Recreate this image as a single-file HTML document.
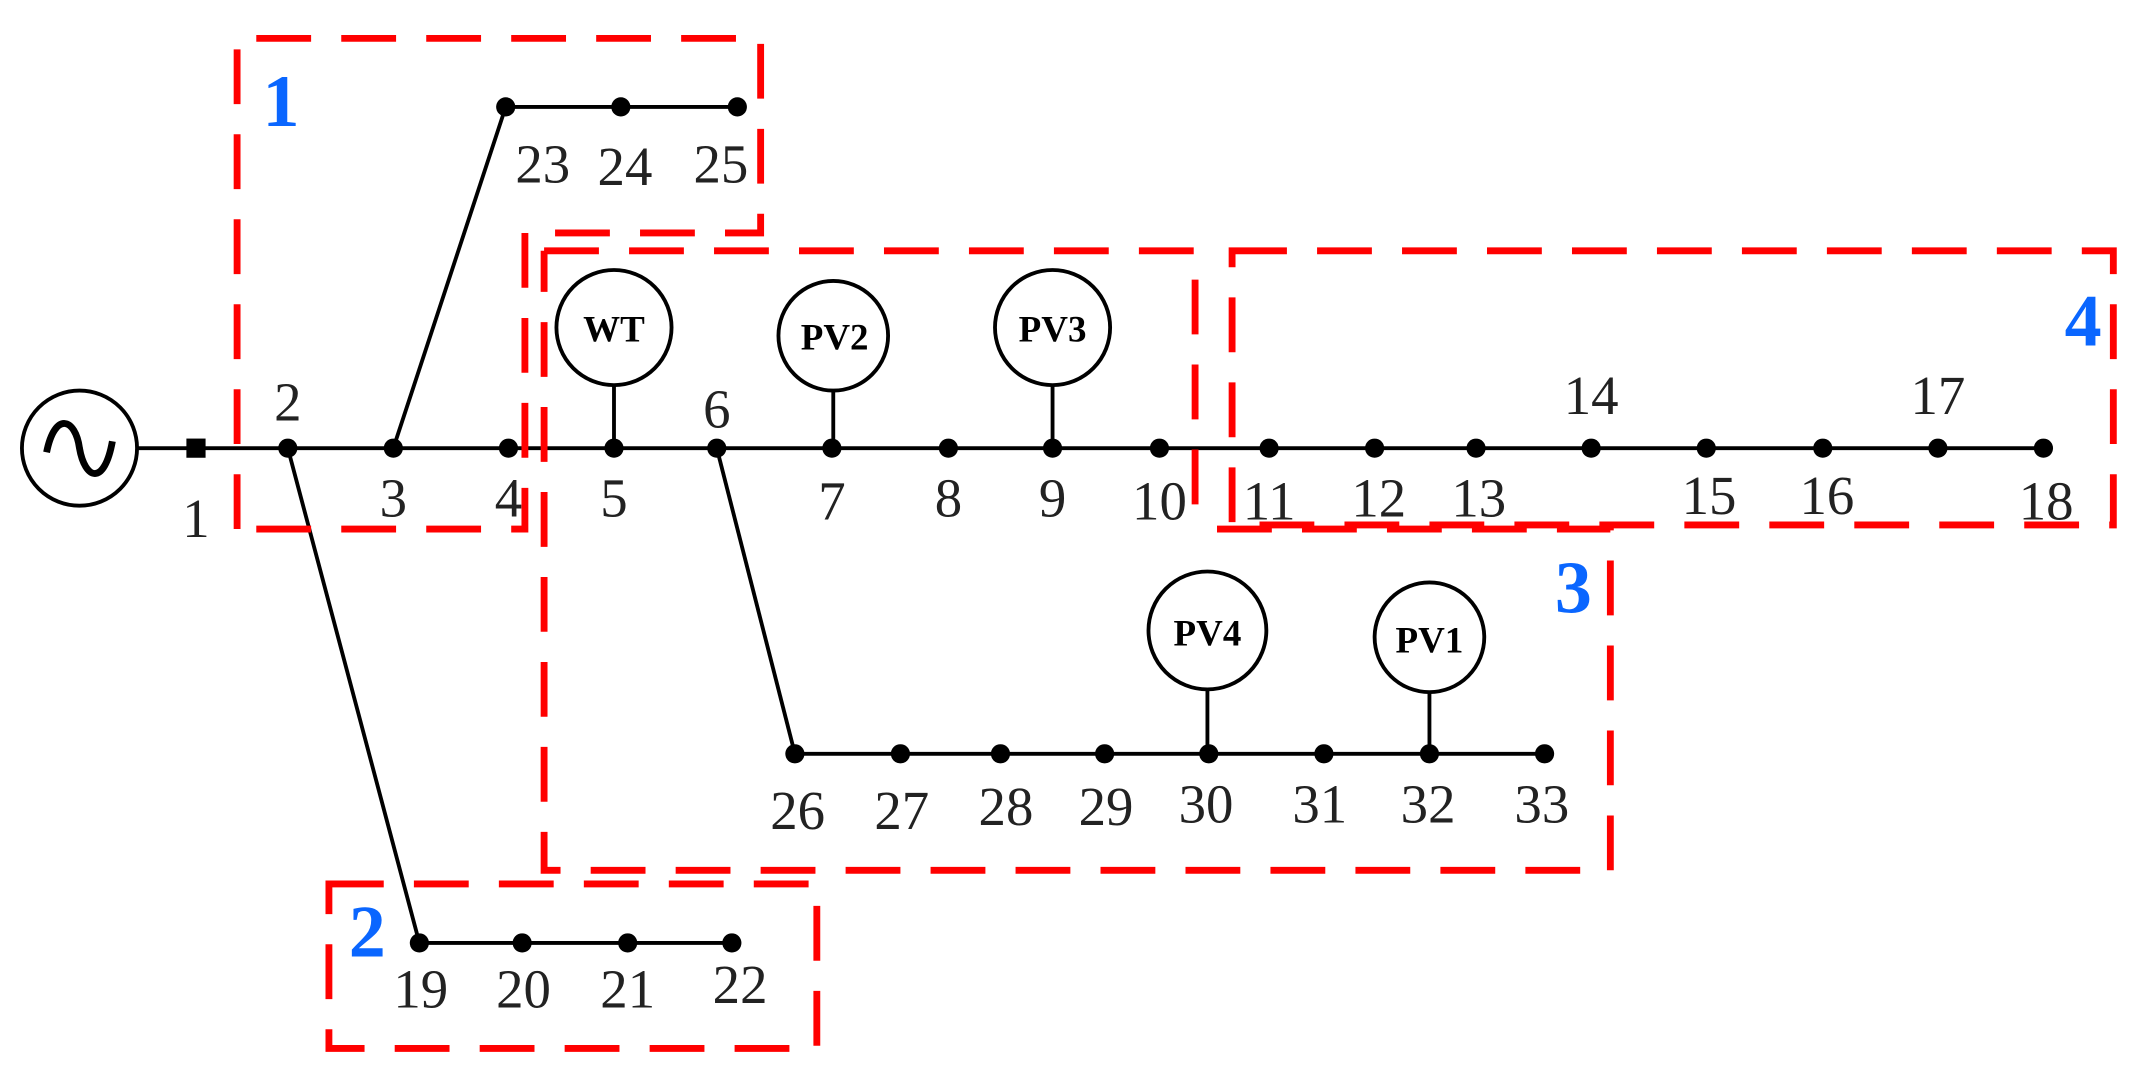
<!DOCTYPE html>
<html><head><meta charset="utf-8"><style>html,body{margin:0;padding:0;background:#fff;}svg{display:block}</style></head><body>
<svg width="2138" height="1069" viewBox="0 0 1560 780" preserveAspectRatio="none" xmlns="http://www.w3.org/2000/svg">
<g stroke="#000" stroke-width="2.8" fill="none">
<circle cx="58" cy="327" r="42"/>
<path d="M34 330 C40 300,55 305,58 327 C62 350,76 355,82 322" stroke-width="5"/>
<line x1="100" y1="327" x2="1491" y2="327"/>
<line x1="287" y1="327" x2="369" y2="78"/>
<line x1="369" y1="78" x2="538" y2="78"/>
<line x1="210" y1="327" x2="306" y2="688"/>
<line x1="306" y1="688" x2="534" y2="688"/>
<line x1="523" y1="327" x2="580" y2="550"/>
<line x1="580" y1="550" x2="1127" y2="550"/>
<circle cx="448" cy="239" r="42"/><line x1="448" y1="281" x2="448" y2="327"/>
<circle cx="608" cy="245" r="40"/><line x1="608" y1="285" x2="608" y2="327"/>
<circle cx="768" cy="239" r="42"/><line x1="768" y1="281" x2="768" y2="327"/>
<circle cx="881" cy="460" r="43"/><line x1="881" y1="503" x2="881" y2="550"/>
<circle cx="1043" cy="465" r="40"/><line x1="1043" y1="505" x2="1043" y2="550"/>
</g>
<rect x="136" y="320" width="14" height="14" fill="#000"/>
<g fill="#000">
<circle cx="210" cy="327" r="7"/><circle cx="287" cy="327" r="7"/><circle cx="371" cy="327" r="7"/><circle cx="448" cy="327" r="7"/><circle cx="523" cy="327" r="7"/><circle cx="607" cy="327" r="7"/><circle cx="692" cy="327" r="7"/><circle cx="768" cy="327" r="7"/><circle cx="846" cy="327" r="7"/><circle cx="926" cy="327" r="7"/><circle cx="1003" cy="327" r="7"/><circle cx="1077" cy="327" r="7"/><circle cx="1161" cy="327" r="7"/><circle cx="1245" cy="327" r="7"/><circle cx="1330" cy="327" r="7"/><circle cx="1414" cy="327" r="7"/><circle cx="1491" cy="327" r="7"/>
<circle cx="369" cy="78" r="7"/><circle cx="453" cy="78" r="7"/><circle cx="538" cy="78" r="7"/>
<circle cx="306" cy="688" r="7"/><circle cx="381" cy="688" r="7"/><circle cx="458" cy="688" r="7"/><circle cx="534" cy="688" r="7"/>
<circle cx="580" cy="550" r="7"/><circle cx="657" cy="550" r="7"/><circle cx="730" cy="550" r="7"/><circle cx="806" cy="550" r="7"/><circle cx="882" cy="550" r="7"/><circle cx="966" cy="550" r="7"/><circle cx="1043" cy="550" r="7"/><circle cx="1127" cy="550" r="7"/>
</g>
<g font-family="Liberation Serif, serif" font-size="40" fill="#222" text-anchor="middle">
<text x="143" y="392">1</text><text x="210" y="307">2</text><text x="287" y="377">3</text><text x="371" y="377">4</text><text x="448" y="377">5</text><text x="523" y="312">6</text><text x="607" y="379">7</text><text x="692" y="377">8</text><text x="768" y="377">9</text><text x="846" y="379">10</text><text x="926" y="379">11</text><text x="1006" y="377">12</text><text x="1079" y="377">13</text><text x="1161" y="302">14</text><text x="1247" y="375">15</text><text x="1333" y="375">16</text><text x="1414" y="302">17</text><text x="1493" y="379">18</text>
<text x="396" y="133">23</text><text x="456" y="135">24</text><text x="526" y="133">25</text>
<text x="307" y="735">19</text><text x="382" y="735">20</text><text x="458" y="735">21</text><text x="540" y="732">22</text>
<text x="582" y="605">26</text><text x="658" y="605">27</text><text x="734" y="602">28</text><text x="807" y="602">29</text><text x="880" y="600">30</text><text x="963" y="600">31</text><text x="1042" y="600">32</text><text x="1125" y="600">33</text>
</g>
<g font-family="Liberation Serif, serif" font-size="27" font-weight="bold" fill="#000" text-anchor="middle">
<text x="448" y="249">WT</text><text x="609" y="255">PV2</text><text x="768" y="249">PV3</text><text x="881" y="471">PV4</text><text x="1043" y="476">PV1</text>
</g>
<g stroke="#f00" stroke-width="5" fill="none" stroke-dasharray="40 22">
<path d="M173 386 V28 H555 V170 H383 V386 Z"/>
<path d="M397 183 H872 V383"/>
<path d="M888 386 H1175 V635 H397 V183"/>
<path d="M899 183 H1542 V383 H899 Z"/>
<path d="M240 645 H596 V765 H240 Z"/>
</g>
<g font-family="Liberation Serif, serif" font-size="54" font-weight="bold" fill="#0a66ff" text-anchor="middle">
<text x="205" y="92">1</text><text x="268" y="698">2</text><text x="1148" y="447">3</text><text x="1520" y="252">4</text>
</g>
</svg>
</body></html>
